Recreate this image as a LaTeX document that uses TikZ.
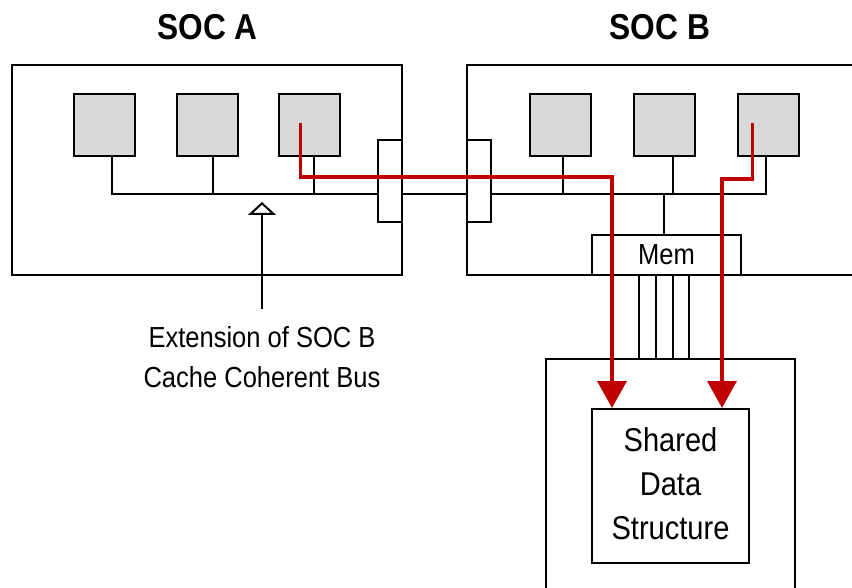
\documentclass[tikz,border=0pt]{standalone}
\usepackage{fontspec}
\setmainfont{Liberation Sans}[FakeStretch=0.88]
\usetikzlibrary{arrows.meta,positioning,calc}
\definecolor{cohred}{HTML}{C00000}

\begin{document}
\begin{tikzpicture}[x=1pt,y=-1pt,line width=2pt,node distance=40pt,
  frame/.style={draw,inner sep=0pt},
  core/.style={draw,fill=black!15,minimum width=61pt,minimum height=62pt,inner sep=0pt},
  port/.style={draw,fill=white,minimum width=24pt,minimum height=82pt,inner sep=0pt},
  title/.style={font=\fontsize{36}{40}\selectfont\bfseries},
  lbl/.style={font=\fontsize{29}{40}\selectfont,align=center,inner sep=0pt},
  coh/.style={draw=cohred,line width=3.5pt,-{Triangle[length=27pt,width=29pt]}}]
\clip (0,0) rectangle (852,588);
\node[title](tA) at (207.5,27.5){SOC A};
\node[title](tB) at (660,27.5){SOC B};
\node[frame,minimum width=390pt,minimum height=210pt](socA) at (207,170){};
\node[frame,minimum width=420pt,minimum height=210pt](socB) at (677,170){};
\node[frame,minimum width=249pt,minimum height=261pt](host) at (670.5,489.5){};
\node[frame,minimum width=157pt,minimum height=154pt,lbl,font=\fontsize{33}{44}\selectfont](shared) at (670.5,486){Shared\\Data\\Structure\rule[-4pt]{0pt}{4pt}};
% cores
\node[core](a1) at (104.5,125){};
\node[core,right=40pt of a1](a2){};
\node[core,right=39pt of a2](a3){};
\node[core](b1) at (560.5,125){};
\node[core,right=41pt of b1](b2){};
\node[core,right=40.5pt of b2](b3){};
\coordinate (busy) at (0,194);
% bus
\draw ([xshift=7pt]a1.south) -- ++(0,38);
\draw ([xshift=5pt]a2.south) -- ++(0,38);
\draw ([xshift=4pt]a3.south) -- ++(0,38);
\draw ([xshift=2.5pt]b1.south) -- ++(0,38);
\draw ([xshift=8pt]b2.south) -- ++(0,38);
\node[port](pA) at (390,181){};
\node[port](pB) at (479,181){};
\node[lbl,draw,fill=white,minimum width=149pt,minimum height=40pt](mem) at (666.5,255){Mem};
\draw ([xshift=7pt]a1.south |- busy) -- (pA.west |- busy);
\draw (pA.east |- busy) -- (pB.west |- busy);
\draw (pB.east |- busy) -| ([xshift=-2.5pt]b3.south);
\draw ([xshift=-2.5pt]mem.north) -- ++(0,-41);
\foreach \dx in {-27.5,-10.5,6.5,22.5}
  \draw ([xshift=\dx pt]mem.south) -- ++(0,84);
% label
\node[lbl](ext) at (262,357.5){Extension of SOC B\\Cache Coherent Bus};
\coordinate (tap) at (262,202);
\draw[-{Triangle[open,length=13pt,width=28pt]}] ($(ext.north)+(0,-17)$) -- (tap);
% coherent accesses
\draw[coh] ([shift={(-9,-2)}]a3.center) |- (612,177) -- (612,0 |- shared.north);
\draw[coh] ([shift={(-15.5,-2)}]b3.center) |- (722,179) -- (722,0 |- shared.north);
\end{tikzpicture}
\end{document}
